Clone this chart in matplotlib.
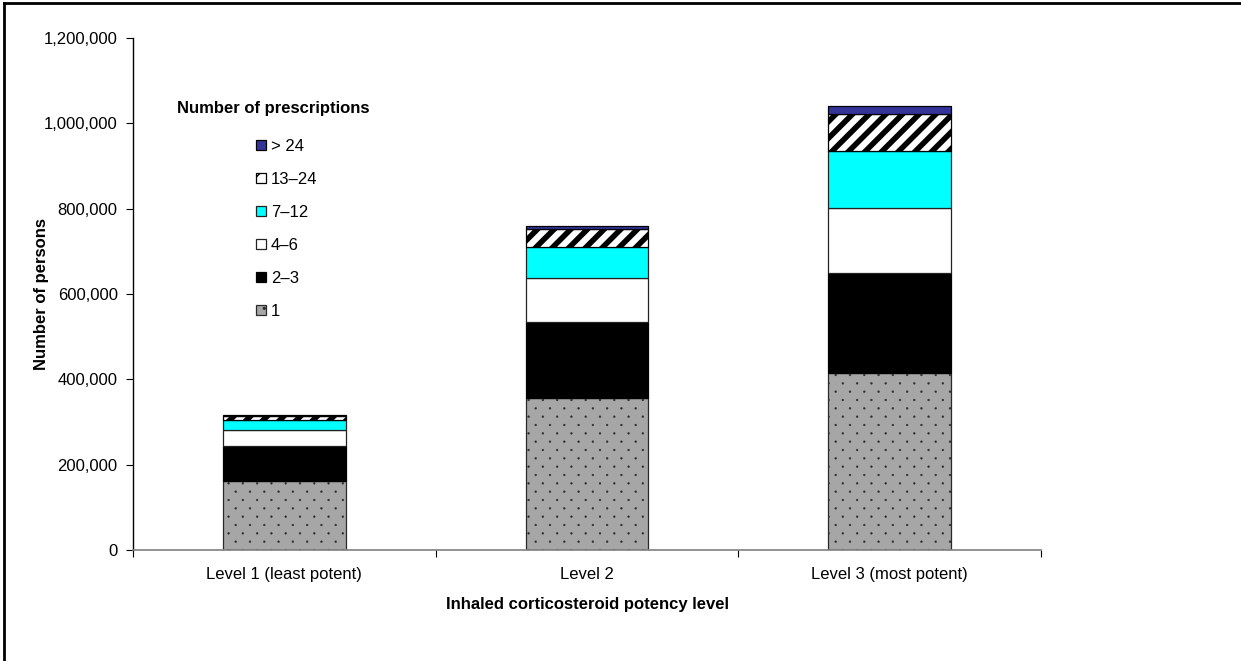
import matplotlib
matplotlib.use("Agg")
import numpy as np
import matplotlib.pyplot as plt
from matplotlib import hatch as mhatch
from matplotlib.path import Path
from matplotlib.lines import Line2D
from matplotlib.ticker import FuncFormatter, FixedLocator

plt.rcParams['font.family'] = ['Liberation Sans', 'DejaVu Sans']
plt.rcParams['font.size'] = 12

categories = ["Level 1 (least potent)", "Level 2", "Level 3 (most potent)"]
series_labels = ["1", "2\u20133", "4\u20136", "7\u201312", "13\u201324", "> 24"]
values = {
    "1":     [162000, 356000, 416000],
    "2\u20133":   [82000, 179000, 234000],
    "4\u20136":   [37000, 102000, 152000],
    "7\u201312":  [24000, 72000, 132000],
    "13\u201324": [10000, 44000, 89000],
    "> 24":  [2000, 7000, 17000],
}
yticks = [0, 200000, 400000, 600000, 800000, 1000000, 1200000]


# staggered small-dot texture (replaces the built-in '.' hatch)
class StaggeredDots(mhatch.HatchPatternBase):
    ncols = 7
    nrows = 12
    radius = 0.009

    def __init__(self, hatch, density):
        self._pts = []
        if hatch.count('.') > 0:
            for r in range(self.nrows + 1):
                yy = r / self.nrows
                if r % 2 == 0:
                    xs = [c / self.ncols for c in range(self.ncols + 1)]
                else:
                    xs = [(c + 0.5) / self.ncols for c in range(self.ncols)]
                self._pts += [(xx, yy) for xx in xs]
        self.shape = Path.unit_circle()
        self.num_vertices = len(self._pts) * len(self.shape.vertices)

    def set_vertices_and_codes(self, vertices, codes):
        nv = len(self.shape.vertices)
        for i, (px, py) in enumerate(self._pts):
            vertices[i * nv:(i + 1) * nv] = self.shape.vertices * self.radius + (px, py)
            codes[i * nv:(i + 1) * nv] = self.shape.codes


mhatch._hatch_types = [StaggeredDots if h is mhatch.SmallFilledCircles else h
                       for h in mhatch._hatch_types]

styles = {
    "1":     dict(facecolor="#a6a6a6", hatch=".", edgecolor="#2a2a2a", hlw=0.3),
    "2\u20133":   dict(facecolor="black", hatch=None, edgecolor="black", hlw=1.0),
    "4\u20136":   dict(facecolor="white", hatch=None, edgecolor="#222222", hlw=1.0),
    "7\u201312":  dict(facecolor="#00ffff", hatch=None, edgecolor="#222222", hlw=1.0),
    "13\u201324": dict(facecolor="white", hatch="//", edgecolor="black", hlw=4.0),
    "> 24":  dict(facecolor="#333399", hatch=None, edgecolor="black", hlw=1.0),
}

W, H = 1241, 661
fig = plt.figure(figsize=(W / 100, H / 100), dpi=100)
ax = fig.add_axes([133 / W, (H - 550) / H, (1041 - 133) / W, (550 - 38) / H])

x = list(range(len(categories)))
bottom = [0] * len(categories)
handles = []
for lab in series_labels:
    st = styles[lab]
    with plt.rc_context({'hatch.linewidth': st['hlw'], 'hatch.color': st['edgecolor']}):
        bars = ax.bar(x, values[lab], bottom=bottom, width=0.405,
                      facecolor=st['facecolor'], edgecolor=st['edgecolor'],
                      hatch=st['hatch'], linewidth=0.9, label=lab, zorder=2)
    handles.append(bars)
    bottom = [b + v for b, v in zip(bottom, values[lab])]

ax.set_xlim(-0.5, len(categories) - 0.5)
ax.set_ylim(0, 1200000)
ax.set_yticks(yticks)
ax.yaxis.set_major_formatter(FuncFormatter(lambda v, p: f"{int(v):,}"))

ax.xaxis.set_major_locator(FixedLocator([i - 0.5 for i in range(len(categories) + 1)]))
ax.xaxis.set_minor_locator(FixedLocator(x))
ax.set_xticklabels([], minor=False)
ax.set_xticklabels(categories, minor=True)
ax.tick_params(axis='x', which='minor', length=0, pad=12)
ax.tick_params(axis='x', which='major', length=5, direction='out', color='black')
ax.tick_params(axis='y', length=5, direction='out', pad=6)

for s in ['top', 'right']:
    ax.spines[s].set_visible(False)
ax.spines['bottom'].set_color('#808080')
ax.spines['bottom'].set_linewidth(1.2)
ax.spines['left'].set_color('black')
ax.spines['left'].set_linewidth(1.0)

ax.set_ylabel("Number of persons", fontweight='bold')
ax.yaxis.set_label_coords((49 - 133) / 908, 0.5)
ax.set_xlabel("Inhaled corticosteroid potency level", fontweight='bold')
ax.xaxis.set_label_coords(0.5, (550 - 597) / 512)

leg = ax.legend(handles[::-1], series_labels[::-1], loc='upper left',
                bbox_to_anchor=(256 / W, 1 - 139 / H), bbox_transform=fig.transFigure,
                frameon=False, borderpad=0, borderaxespad=0,
                handlelength=0.6, handleheight=0.6, handletextpad=0.3,
                labelspacing=1.08, fontsize=12)
fig.text(177 / W, 1 - 108 / H, "Number of prescriptions", fontweight='bold',
         ha='left', va='center', fontsize=12)

fig.add_artist(Line2D([4 / W, 4 / W], [0, 1 - 3 / H], color='black', linewidth=2))
fig.add_artist(Line2D([4 / W, 1], [1 - 3 / H, 1 - 3 / H], color='black', linewidth=2))

fig.savefig("out.png", dpi=100)
